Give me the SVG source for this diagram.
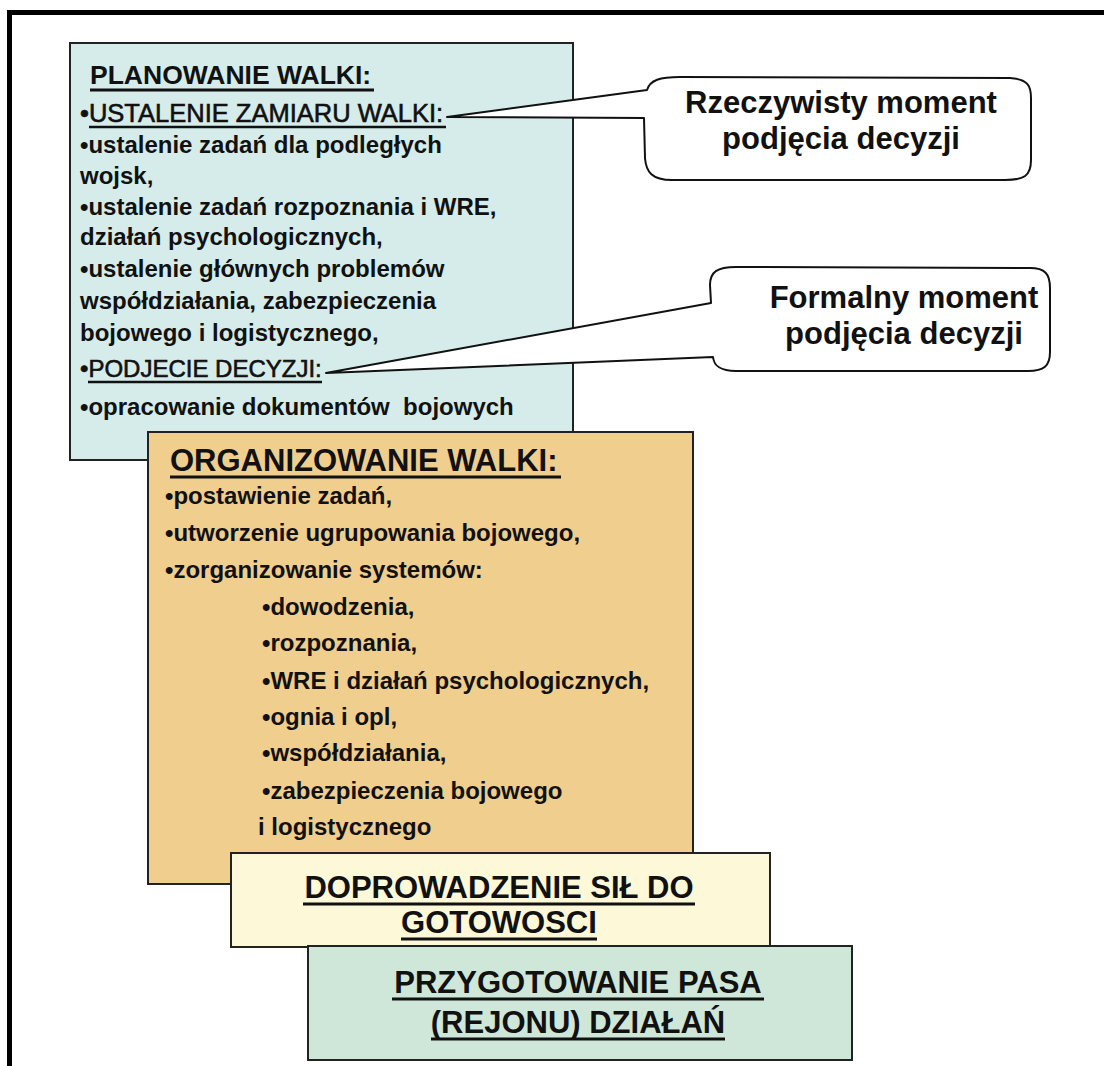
<svg xmlns="http://www.w3.org/2000/svg" width="1104" height="1066" viewBox="0 0 1104 1066">
  <style>
    text { font-family: "Liberation Sans", Arial, sans-serif; fill: #111; white-space: pre; }
    .box { stroke: #222; stroke-width: 2; }
    .callout { fill: #fff; stroke: #111; stroke-width: 2; stroke-linejoin: round; }
    .b { font-weight: bold; }
    .body { font-size: 24px; font-weight: bold; }
    .reg { stroke: #111; stroke-width: 0.6; }
    .head { font-weight: bold; }
    .mid { text-anchor: middle; }
    .uline { stroke: #111; stroke-width: 3; }
    .uline-s { stroke: #111; stroke-width: 2.4; }
  </style>

  <rect width="1104" height="1066" fill="#fff"/>
  <!-- page frame -->
  <path d="M9.5,1066 V12.5 H1104" fill="none" stroke="#000" stroke-width="5"/>

  <!-- planning stage -->
  <g id="planowanie">
    <rect class="box" x="70" y="43" width="503" height="417" fill="#d5ecea"/>
    <text class="head" x="90" y="84" font-size="26.5">PLANOWANIE WALKI:</text>
    <line class="uline" x1="90" y1="90" x2="374" y2="90"/>
    <text class="reg" x="80" y="122" font-size="25.5">•USTALENIE ZAMIARU WALKI:</text>
    <line class="uline-s" x1="89" y1="127" x2="446" y2="127"/>
    <text class="body" x="80" y="153">•ustalenie zadań dla podległych</text>
    <text class="body" x="80" y="184">wojsk,</text>
    <text class="body" x="80" y="215">•ustalenie zadań rozpoznania i WRE,</text>
    <text class="body" x="80" y="245">działań psychologicznych,</text>
    <text class="body" x="80" y="277">•ustalenie głównych problemów</text>
    <text class="body" x="80" y="309">współdziałania, zabezpieczenia</text>
    <text class="body" x="80" y="341">bojowego i logistycznego,</text>
    <text class="reg" x="80" y="377" font-size="24">•PODJECIE DECYZJI:</text>
    <line class="uline-s" x1="88" y1="382" x2="322" y2="382"/>
    <text class="body" x="80" y="415">•opracowanie dokumentów  bojowych</text>
  </g>

  <!-- speech-bubble notes with their pointers -->
  <g id="moment-rzeczywisty">
    <path class="callout" d="M447,117 L647,90 C650,80 660,77 680,77 L1010,78 C1028,79 1031,86 1031,98 L1031,160 C1031,176 1024,180 1005,180 L672,180 C652,180 646,172 645,158 L644,118 Z"/>
    <text class="b mid" x="841" y="113" font-size="31">Rzeczywisty moment</text>
    <text class="b mid" x="841" y="149" font-size="31">podjęcia decyzji</text>
  </g>
  <g id="moment-formalny">
    <path class="callout" d="M326,373 L711,303 L710,285 C710,272 717,267 736,267 L1030,268 C1045,268 1050,274 1050,288 L1050,352 C1050,366 1044,371 1028,371 L736,371 C720,371 714,366 713,357 Z"/>
    <text class="b mid" x="904" y="308" font-size="31">Formalny moment</text>
    <text class="b mid" x="904" y="344" font-size="31">podjęcia decyzji</text>
  </g>

  <!-- organisation stage -->
  <g id="organizowanie">
    <rect class="box" x="148" y="432" width="545" height="452" fill="#f0ce8e"/>
    <text class="head" x="170" y="471" font-size="31">ORGANIZOWANIE WALKI:</text>
    <line class="uline" x1="170" y1="477" x2="561" y2="477"/>
    <text class="body" x="165" y="504">•postawienie zadań,</text>
    <text class="body" x="165" y="541">•utworzenie ugrupowania bojowego,</text>
    <text class="body" x="165" y="578">•zorganizowanie systemów:</text>
    <text class="body" x="262" y="615">•dowodzenia,</text>
    <text class="body" x="262" y="651">•rozpoznania,</text>
    <text class="body" x="262" y="689">•WRE i działań psychologicznych,</text>
    <text class="body" x="262" y="725">•ognia i opl,</text>
    <text class="body" x="262" y="761">•współdziałania,</text>
    <text class="body" x="262" y="799">•zabezpieczenia bojowego</text>
    <text class="body" x="258" y="835">i logistycznego</text>
  </g>

  <!-- readiness stage -->
  <g id="doprowadzenie">
    <rect class="box" x="231" y="853" width="539" height="94" fill="#fcf8d8"/>
    <text class="head mid" x="499" y="898" font-size="31">DOPROWADZENIE SIŁ DO</text>
    <line class="uline" x1="303" y1="904" x2="695" y2="904"/>
    <text class="head mid" x="499" y="933" font-size="31">GOTOWOSCI</text>
    <line class="uline" x1="401" y1="939" x2="597" y2="939"/>
  </g>

  <!-- area preparation stage -->
  <g id="przygotowanie">
    <rect class="box" x="308" y="946" width="544" height="114" fill="#cfe7d8"/>
    <text class="head mid" x="578" y="993" font-size="31">PRZYGOTOWANIE PASA</text>
    <line class="uline" x1="392" y1="999" x2="764" y2="999"/>
    <text class="head mid" x="578" y="1033" font-size="31">(REJONU) DZIAŁAŃ</text>
    <line class="uline" x1="431" y1="1039" x2="725" y2="1039"/>
  </g>
</svg>
